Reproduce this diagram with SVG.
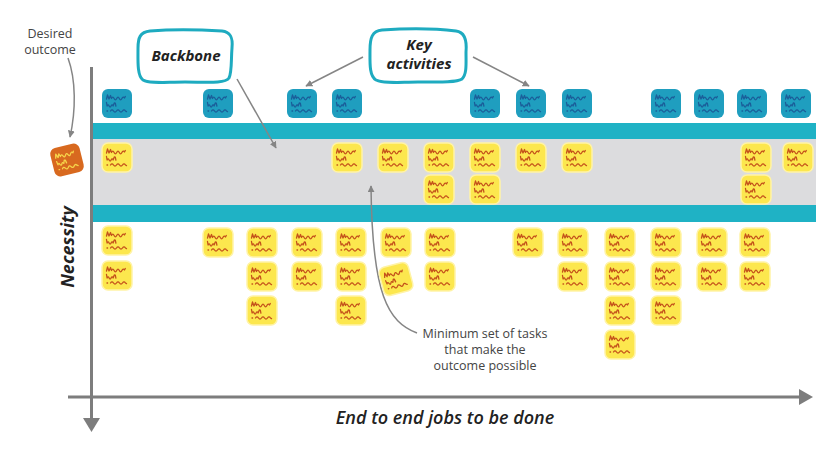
<svg xmlns="http://www.w3.org/2000/svg" xmlns:xlink="http://www.w3.org/1999/xlink" width="840" height="453" viewBox="0 0 840 453">
<style>
.lbl{font-family:"Open Sans","Liberation Sans",sans-serif;font-size:12.5px;fill:#444;text-anchor:middle}
.bold{font-family:"Open Sans","Liberation Sans",sans-serif;font-weight:700;font-style:italic;fill:#222;text-anchor:middle}
.blue{fill:#1f9ebf}
.yel{fill:#fce74e;stroke:#fff3a6;stroke-width:1.5}
.org{fill:#d8691f}
.sb{stroke:#1b5d99}
.sy{stroke:#c4521b}
.so{stroke:#f6d44a}
.bubble{fill:#fff;stroke:#1eabc0;stroke-width:3}
.conn{fill:none;stroke:#858585;stroke-width:1.5}
.axis{fill:none;stroke:#7d7d7d;stroke-width:3}
</style>
<defs>
<g id="scrib" fill="none" stroke-width="1.3" stroke-linecap="round" stroke-linejoin="round">
<path d="M4.5 10 l1 -4 l1.5 4 l1.5 -3.5 l1 3 q1.3 -2.6 2.6 0 t2.6 0 t2.6 0 t2.6 0 t2.6 -0.5 l0.8 -1.5"/>
<path d="M4.5 13.5 l0.6 3.5 q1 -2.2 2 0 t2 0 t2 0 l1.2 -3 l1 0.2 l0.6 3"/>
<path d="M5 22 h0.6 M8.5 22 q1.5 -2.2 3 0 t3 0 t3 0 t3 0 t3 0 l1 0.6"/>
</g>
<marker id="ah" viewBox="0 0 10 10" refX="9" refY="5" markerWidth="7" markerHeight="7" markerUnits="userSpaceOnUse" orient="auto"><path d="M0 0 L10 5 L0 10 z" fill="#858585"/></marker>
</defs>
<rect width="840" height="453" fill="#fff"/>
<g id="bands">
<rect x="93" y="123" width="723" height="16" fill="#1fb2c5"/>
<rect x="93" y="139" width="723" height="66" fill="#dcdcde"/>
<rect x="93" y="205" width="723" height="17" fill="#1fb2c5"/>
</g>
<g id="connectors">
<path class="axis" d="M91.5 67 V420"/>
<polygon points="83,418 100,418 91.5,432" fill="#7d7d7d"/>
<path class="axis" d="M68 397 H801"/>
<polygon points="799,389 813,397 799,405" fill="#7d7d7d"/>
<path class="conn" d="M68 58 C76 80 76 110 70 137" marker-end="url(#ah)"/>
<path class="conn" d="M237 79 L276 148" marker-end="url(#ah)"/>
<path class="conn" d="M363 57 L306 86" marker-end="url(#ah)"/>
<path class="conn" d="M473 57 L529 86" marker-end="url(#ah)"/>
<path class="conn" d="M417 333 C388 322 372 295 371 186" marker-end="url(#ah)"/>
</g>
<g id="backbone">
<path class="bubble" d="M150 31 C175 29 205 30 222 31 C231 32 233 38 232 48 C231 60 232 72 229 78 C225 84 205 82 185 82 C165 82 150 84 143 80 C137 76 138 60 138 48 C138 38 140 32 150 31 Z"/>
<text class="bold" x="186" y="61" font-size="15">Backbone</text>
</g>
<g id="key-activities">
<path class="bubble" d="M382 30 C410 28 440 29 456 31 C465 32 467 40 466 52 C466 64 467 74 462 79 C456 83 435 82 418 82 C400 82 385 84 376 80 C369 76 370 62 370 50 C370 38 372 31 382 30 Z"/>
<text class="bold" x="419" y="50" font-size="15">Key</text>
<text class="bold" x="419" y="69" font-size="15">activities</text>
</g>
<g id="desired-outcome">
<text class="lbl" x="50" y="38">Desired</text>
<text class="lbl" x="50" y="54">outcome</text>
<g transform="translate(67,160) rotate(-14) translate(-15,-14.5)"><rect class="org" width="30" height="29" rx="6"/><use xlink:href="#scrib" class="so"/></g>
</g>
<g id="minimum-label">
<text class="lbl" x="485" y="338">Minimum set of tasks</text>
<text class="lbl" x="485" y="354">that make the</text>
<text class="lbl" x="485" y="370">outcome possible</text>
</g>
<g id="necessity"><text class="bold" font-size="18" transform="translate(74,247) rotate(-90)">Necessity</text></g>
<g id="jobs"><text class="bold" font-size="18" x="445" y="424" style="font-weight:600">End to end jobs to be done</text></g>
<g id="key-activity-notes">
<g id="k1" transform="translate(102,89)"><rect class="blue" width="30" height="29" rx="6"/><use xlink:href="#scrib" class="sb"/></g>
<g id="k2" transform="translate(203,89)"><rect class="blue" width="30" height="29" rx="6"/><use xlink:href="#scrib" class="sb"/></g>
<g id="k3" transform="translate(287,89)"><rect class="blue" width="30" height="29" rx="6"/><use xlink:href="#scrib" class="sb"/></g>
<g id="k4" transform="translate(332,89)"><rect class="blue" width="30" height="29" rx="6"/><use xlink:href="#scrib" class="sb"/></g>
<g id="k5" transform="translate(470,89)"><rect class="blue" width="30" height="29" rx="6"/><use xlink:href="#scrib" class="sb"/></g>
<g id="k6" transform="translate(516,89)"><rect class="blue" width="30" height="29" rx="6"/><use xlink:href="#scrib" class="sb"/></g>
<g id="k7" transform="translate(562,89)"><rect class="blue" width="30" height="29" rx="6"/><use xlink:href="#scrib" class="sb"/></g>
<g id="k8" transform="translate(651,89)"><rect class="blue" width="30" height="29" rx="6"/><use xlink:href="#scrib" class="sb"/></g>
<g id="k9" transform="translate(694,89)"><rect class="blue" width="30" height="29" rx="6"/><use xlink:href="#scrib" class="sb"/></g>
<g id="k10" transform="translate(737,89)"><rect class="blue" width="30" height="29" rx="6"/><use xlink:href="#scrib" class="sb"/></g>
<g id="k11" transform="translate(781,89)"><rect class="blue" width="30" height="29" rx="6"/><use xlink:href="#scrib" class="sb"/></g>
</g>
<g id="backbone-notes">
<g id="m1" transform="translate(102,143)"><rect class="yel" width="30" height="29" rx="6"/><use xlink:href="#scrib" class="sy"/></g>
<g id="m2" transform="translate(332,143)"><rect class="yel" width="30" height="29" rx="6"/><use xlink:href="#scrib" class="sy"/></g>
<g id="m3" transform="translate(378,143)"><rect class="yel" width="30" height="29" rx="6"/><use xlink:href="#scrib" class="sy"/></g>
<g id="m4" transform="translate(424,143)"><rect class="yel" width="30" height="29" rx="6"/><use xlink:href="#scrib" class="sy"/></g>
<g id="m5" transform="translate(470,143)"><rect class="yel" width="30" height="29" rx="6"/><use xlink:href="#scrib" class="sy"/></g>
<g id="m6" transform="translate(516,143)"><rect class="yel" width="30" height="29" rx="6"/><use xlink:href="#scrib" class="sy"/></g>
<g id="m7" transform="translate(562,143)"><rect class="yel" width="30" height="29" rx="6"/><use xlink:href="#scrib" class="sy"/></g>
<g id="m8" transform="translate(741,143)"><rect class="yel" width="30" height="29" rx="6"/><use xlink:href="#scrib" class="sy"/></g>
<g id="m9" transform="translate(783,143)"><rect class="yel" width="30" height="29" rx="6"/><use xlink:href="#scrib" class="sy"/></g>
<g id="m10" transform="translate(424,175)"><rect class="yel" width="30" height="29" rx="6"/><use xlink:href="#scrib" class="sy"/></g>
<g id="m11" transform="translate(470,175)"><rect class="yel" width="30" height="29" rx="6"/><use xlink:href="#scrib" class="sy"/></g>
<g id="m12" transform="translate(741,175)"><rect class="yel" width="30" height="29" rx="6"/><use xlink:href="#scrib" class="sy"/></g>
</g>
<g id="task-notes">
<g id="t1" transform="translate(102,226)"><rect class="yel" width="30" height="29" rx="6"/><use xlink:href="#scrib" class="sy"/></g>
<g id="t2" transform="translate(102,261)"><rect class="yel" width="30" height="29" rx="6"/><use xlink:href="#scrib" class="sy"/></g>
<g id="t3" transform="translate(203,228)"><rect class="yel" width="30" height="29" rx="6"/><use xlink:href="#scrib" class="sy"/></g>
<g id="t4" transform="translate(247,228)"><rect class="yel" width="30" height="29" rx="6"/><use xlink:href="#scrib" class="sy"/></g>
<g id="t5" transform="translate(247,262)"><rect class="yel" width="30" height="29" rx="6"/><use xlink:href="#scrib" class="sy"/></g>
<g id="t6" transform="translate(247,296)"><rect class="yel" width="30" height="29" rx="6"/><use xlink:href="#scrib" class="sy"/></g>
<g id="t7" transform="translate(292,228)"><rect class="yel" width="30" height="29" rx="6"/><use xlink:href="#scrib" class="sy"/></g>
<g id="t8" transform="translate(292,262)"><rect class="yel" width="30" height="29" rx="6"/><use xlink:href="#scrib" class="sy"/></g>
<g id="t9" transform="translate(336,228)"><rect class="yel" width="30" height="29" rx="6"/><use xlink:href="#scrib" class="sy"/></g>
<g id="t10" transform="translate(336,262)"><rect class="yel" width="30" height="29" rx="6"/><use xlink:href="#scrib" class="sy"/></g>
<g id="t11" transform="translate(336,296)"><rect class="yel" width="30" height="29" rx="6"/><use xlink:href="#scrib" class="sy"/></g>
<g id="t12" transform="translate(381,228)"><rect class="yel" width="30" height="29" rx="6"/><use xlink:href="#scrib" class="sy"/></g>
<g id="t13" transform="translate(396,279) rotate(-15) translate(-15,-14.5)"><rect class="yel" width="30" height="29" rx="6"/><use xlink:href="#scrib" class="sy"/></g>
<g id="t14" transform="translate(425,228)"><rect class="yel" width="30" height="29" rx="6"/><use xlink:href="#scrib" class="sy"/></g>
<g id="t15" transform="translate(425,262)"><rect class="yel" width="30" height="29" rx="6"/><use xlink:href="#scrib" class="sy"/></g>
<g id="t16" transform="translate(513,228)"><rect class="yel" width="30" height="29" rx="6"/><use xlink:href="#scrib" class="sy"/></g>
<g id="t17" transform="translate(558,228)"><rect class="yel" width="30" height="29" rx="6"/><use xlink:href="#scrib" class="sy"/></g>
<g id="t18" transform="translate(558,262)"><rect class="yel" width="30" height="29" rx="6"/><use xlink:href="#scrib" class="sy"/></g>
<g id="t19" transform="translate(605,228)"><rect class="yel" width="30" height="29" rx="6"/><use xlink:href="#scrib" class="sy"/></g>
<g id="t20" transform="translate(605,262)"><rect class="yel" width="30" height="29" rx="6"/><use xlink:href="#scrib" class="sy"/></g>
<g id="t21" transform="translate(605,296)"><rect class="yel" width="30" height="29" rx="6"/><use xlink:href="#scrib" class="sy"/></g>
<g id="t22" transform="translate(605,330)"><rect class="yel" width="30" height="29" rx="6"/><use xlink:href="#scrib" class="sy"/></g>
<g id="t23" transform="translate(651,228)"><rect class="yel" width="30" height="29" rx="6"/><use xlink:href="#scrib" class="sy"/></g>
<g id="t24" transform="translate(651,262)"><rect class="yel" width="30" height="29" rx="6"/><use xlink:href="#scrib" class="sy"/></g>
<g id="t25" transform="translate(651,296)"><rect class="yel" width="30" height="29" rx="6"/><use xlink:href="#scrib" class="sy"/></g>
<g id="t26" transform="translate(697,228)"><rect class="yel" width="30" height="29" rx="6"/><use xlink:href="#scrib" class="sy"/></g>
<g id="t27" transform="translate(697,262)"><rect class="yel" width="30" height="29" rx="6"/><use xlink:href="#scrib" class="sy"/></g>
<g id="t28" transform="translate(740,228)"><rect class="yel" width="30" height="29" rx="6"/><use xlink:href="#scrib" class="sy"/></g>
<g id="t29" transform="translate(740,262)"><rect class="yel" width="30" height="29" rx="6"/><use xlink:href="#scrib" class="sy"/></g>
</g>
</svg>
